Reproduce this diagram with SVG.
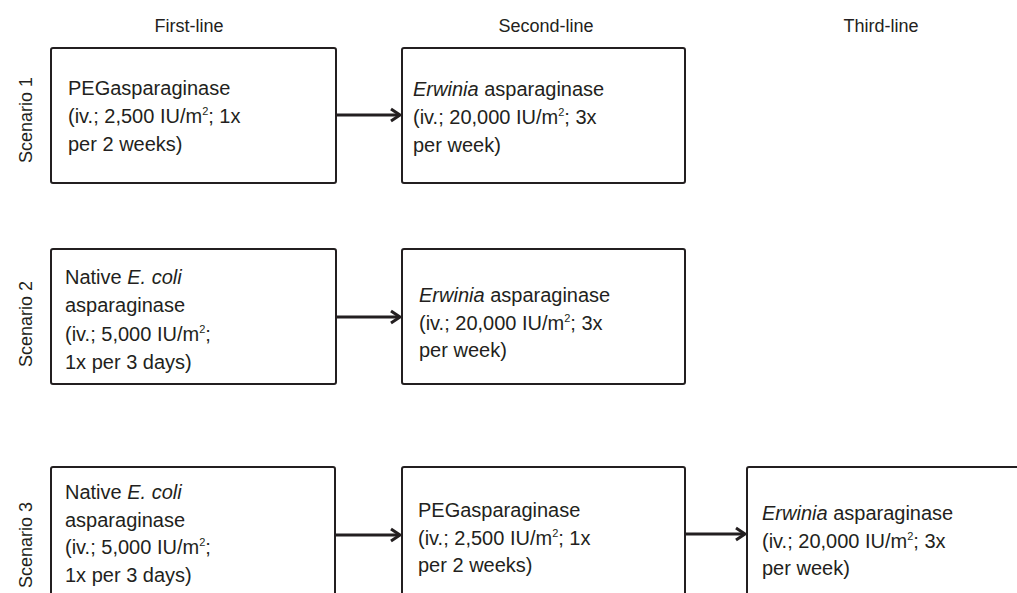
<svg xmlns="http://www.w3.org/2000/svg" width="1017" height="593" viewBox="0 0 1017 593">
<style>
text{font-family:"Liberation Sans",Arial,sans-serif;fill:#231f20}
.hd{font-size:18px;text-anchor:middle}
.sc{font-size:18px;text-anchor:middle}
.bt{font-size:20px}
.box{fill:#fff;stroke:#231f20;stroke-width:2}
.con line{stroke:#231f20;stroke-width:3}
.con path{fill:none;stroke:#231f20;stroke-width:3;stroke-linejoin:miter}
.sup{font-size:11px}
</style>
<rect width="1017" height="593" fill="#fff"/>
<g id="headers">
<text class="hd" x="189" y="32">First-line</text>
<text class="hd" x="546" y="32">Second-line</text>
<text class="hd" x="881" y="32">Third-line</text>
</g>
<g id="scenarios">
<text class="sc" transform="translate(32,120) rotate(-90)">Scenario 1</text>
<text class="sc" transform="translate(32,324) rotate(-90)">Scenario 2</text>
<text class="sc" transform="translate(32,545) rotate(-90)">Scenario 3</text>
</g>
<g id="s1-first">
<rect class="box" x="51" y="48" width="285" height="135" rx="2"/>
<text class="bt" x="68" y="95">PEGasparaginase</text>
<text class="bt" x="68" y="123">(iv.; 2,500 IU/m<tspan class="sup" dy="-8">2</tspan><tspan dy="8">; 1x</tspan></text>
<text class="bt" x="68" y="151">per 2 weeks)</text>
</g>
<g id="s1-second">
<rect class="box" x="402" y="48" width="283" height="135" rx="2"/>
<text class="bt" x="413" y="96"><tspan font-style="italic">Erwinia</tspan> asparaginase</text>
<text class="bt" x="413" y="124">(iv.; 20,000 IU/m<tspan class="sup" dy="-8">2</tspan><tspan dy="8">; 3x</tspan></text>
<text class="bt" x="413" y="152">per week)</text>
</g>
<g id="s2-first">
<rect class="box" x="51" y="249" width="285" height="135" rx="2"/>
<text class="bt" x="65" y="284">Native <tspan font-style="italic">E. coli</tspan></text>
<text class="bt" x="65" y="312">asparaginase</text>
<text class="bt" x="65" y="341">(iv.; 5,000 IU/m<tspan class="sup" dy="-8">2</tspan><tspan dy="8">;</tspan></text>
<text class="bt" x="65" y="369">1x per 3 days)</text>
</g>
<g id="s2-second">
<rect class="box" x="402" y="249" width="283" height="135" rx="2"/>
<text class="bt" x="419" y="302"><tspan font-style="italic">Erwinia</tspan> asparaginase</text>
<text class="bt" x="419" y="330">(iv.; 20,000 IU/m<tspan class="sup" dy="-8">2</tspan><tspan dy="8">; 3x</tspan></text>
<text class="bt" x="419" y="357">per week)</text>
</g>
<g id="s3-first">
<rect class="box" x="51" y="467" width="284" height="150" rx="2"/>
<text class="bt" x="65" y="499">Native <tspan font-style="italic">E. coli</tspan></text>
<text class="bt" x="65" y="527">asparaginase</text>
<text class="bt" x="65" y="554">(iv.; 5,000 IU/m<tspan class="sup" dy="-8">2</tspan><tspan dy="8">;</tspan></text>
<text class="bt" x="65" y="582">1x per 3 days)</text>
</g>
<g id="s3-second">
<rect class="box" x="402" y="467" width="283" height="150" rx="2"/>
<text class="bt" x="418" y="517">PEGasparaginase</text>
<text class="bt" x="418" y="545">(iv.; 2,500 IU/m<tspan class="sup" dy="-8">2</tspan><tspan dy="8">; 1x</tspan></text>
<text class="bt" x="418" y="572">per 2 weeks)</text>
</g>
<g id="s3-third">
<rect class="box" x="747" y="467" width="300" height="150" rx="2"/>
<text class="bt" x="762" y="520"><tspan font-style="italic">Erwinia</tspan> asparaginase</text>
<text class="bt" x="762" y="548">(iv.; 20,000 IU/m<tspan class="sup" dy="-8">2</tspan><tspan dy="8">; 3x</tspan></text>
<text class="bt" x="762" y="575">per week)</text>
</g>
<g id="connectors" class="con">
<line x1="336" y1="115" x2="399" y2="115"/>
<path d="M391,109 L400,115 L391,121"/>
<line x1="336" y1="317" x2="399" y2="317"/>
<path d="M391,311 L400,317 L391,323"/>
<line x1="335" y1="535" x2="399" y2="535"/>
<path d="M391,529 L400,535 L391,541"/>
<line x1="685" y1="534" x2="744" y2="534"/>
<path d="M736,528 L745,534 L736,540"/>
</g>
</svg>
